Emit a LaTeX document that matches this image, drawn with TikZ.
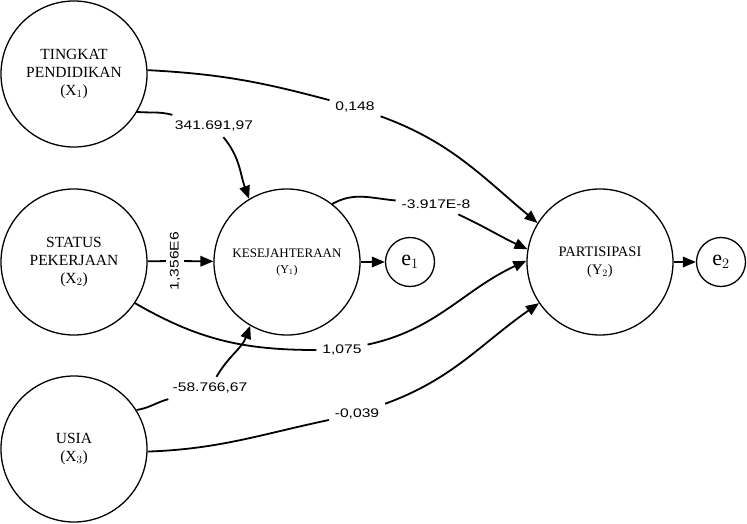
\documentclass[tikz,border=0pt]{standalone}
\usepackage{fontspec}
\setmainfont{Liberation Serif}
\newfontfamily\lblfamily{Liberation Sans}
\usetikzlibrary{arrows.meta}
\newcommand\lbltxt[1]{\scalebox{1.25}[1]{#1}}
\begin{document}
\begin{tikzpicture}[
  var/.style={circle,draw,line width=1.3pt,minimum size=146pt,inner sep=0pt,align=center,
    font=\fontsize{15.5}{18}\selectfont},
  err/.style={circle,draw,line width=1.3pt,minimum size=49pt,inner sep=0pt,
    font=\fontsize{22}{24}\selectfont},
  lbl/.style={inner sep=3pt,outer sep=3pt,font=\lblfamily\fontsize{12.5}{14}\selectfont},
  conn/.style={line width=1.8pt},
  arr/.style={line width=1.8pt,-{Triangle[length=13pt,width=10.5pt]}}
]
\useasboundingbox (0,0) rectangle (747pt,523pt);
\begin{scope}[x=1pt,y=1pt]
\node[var] (x1) at (74,449) {TINGKAT\\PENDIDIKAN\\(X$_1$)};
\node[var] (x2) at (74,261) {STATUS\\PEKERJAAN\\(X$_2$)};
\node[var] (x3) at (74,74) {USIA\\(X$_3$)};
\node[var,font=\fontsize{13}{16}\selectfont] (y1) at (287,261) {KESEJAHTERAAN\\{\fontsize{12}{14}\selectfont(Y$_1$)}};
\node[var,font=\fontsize{14.5}{18}\selectfont] (y2) at (600,261) {PARTISIPASI\\(Y$_2$)};
\node[err] (e1) at (410,261) {e$_1$};
\node[err] (e2) at (721,261) {e$_2$};

\node[lbl] (l1) at (355,416) {\lbltxt{0,148}};
\node[lbl] (l2) at (214,397) {\lbltxt{341.691,97}};
\node[lbl] (l3) at (436,319) {\lbltxt{-3.917E-8}};
\node[lbl,rotate=90,outer sep=1pt] (l4) at (175,262) {\lbltxt{1,356E6}};
\node[lbl] (l5) at (342,173) {\lbltxt{1,075}};
\node[lbl] (l6) at (210,135) {\lbltxt{-58.766,67}};
\node[lbl] (l7) at (357,109) {\lbltxt{-0,039}};

\draw[conn] (x1.3) to[out=-3,in=165] (l1);
\draw[arr] (l1) to[out=-20,in=140] (y2.148);

\draw[conn] (x1.-31) to[out=-5,in=165] (l2);
\draw[arr] (l2) to[out=-50,in=110] (y1.121);

\draw[conn] (y1.52) to[out=30,in=175] (l3);
\draw[arr] (l3) to[out=-25,in=155] (y2.170);

\draw[conn] (x2) -- (l4);
\draw[arr] (l4) -- (y1);

\draw[conn] (x2.-34) to[out=-30,in=180] (l5);
\draw[arr] (l5) to[out=12,in=205] (y2.179);

\draw[conn] (x3.32) to[out=8,in=195] (l6);
\draw[arr] (l6) to[out=60,in=250] (y1.240);

\draw[conn] (x3.-2) to[out=2,in=192] (l7);
\draw[arr] (l7) to[out=20,in=215] (y2.214);

\draw[arr] (y1) -- (e1);
\draw[arr] (y2) -- (e2);
\end{scope}
\end{tikzpicture}
\end{document}
